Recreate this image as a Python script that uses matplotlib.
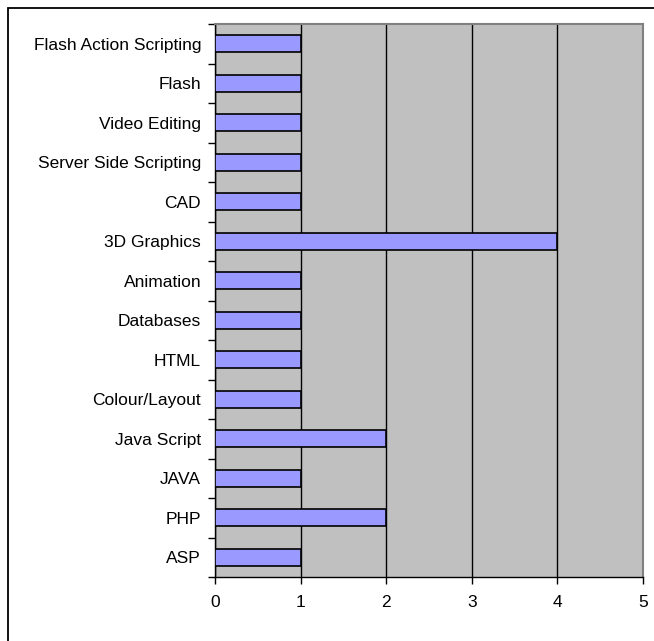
import matplotlib.pyplot as plt
import numpy as np
from matplotlib.patches import Rectangle

plt.rcParams['font.family'] = ['Liberation Sans', 'DejaVu Sans']

# categories listed bottom to top
skills = ['ASP', 'PHP', 'JAVA', 'Java Script', 'Colour/Layout', 'HTML',
          'Databases', 'Animation', '3D Graphics', 'CAD',
          'Server Side Scripting', 'Video Editing', 'Flash',
          'Flash Action Scripting']
counts = [1, 2, 1, 2, 1, 1, 1, 1, 4, 1, 1, 1, 1, 1]
x_ticks = [0, 1, 2, 3, 4, 5]

fig = plt.figure(figsize=(6.54, 6.41), dpi=100)
# chart frame runs off the right and bottom edges
fig.patches.append(Rectangle((8 / 654, -10 / 641), 660 / 654, 643 / 641,
                             transform=fig.transFigure, fill=False,
                             edgecolor='black', linewidth=1.3))

ax = fig.add_axes([215 / 654, (641 - 577) / 641, 428 / 654, 553 / 641])
ax.set_facecolor('#C0C0C0')

y = np.arange(len(skills))
ax.barh(y, counts, height=0.42, color='#9999FF', edgecolor='black',
        linewidth=1.2, zorder=3)

ax.set_xlim(0, 5)
ax.set_ylim(-0.5, len(skills) - 0.5)
ax.set_xticks(x_ticks)
ax.xaxis.grid(True, color='black', linewidth=1.0, zorder=1)
ax.set_axisbelow(True)

# labels centred on bars, tick marks between categories
ax.set_yticks(y)
ax.set_yticklabels(skills, fontsize=12.5)
ax.tick_params(axis='y', which='major', length=0, pad=10)
ax.set_yticks(np.arange(-0.5, len(skills), 1), minor=True)
ax.tick_params(axis='y', which='minor', length=5, width=1, direction='out')
ax.tick_params(axis='x', length=5, width=1, direction='out', labelsize=12.5,
               pad=8)

for side in ['top', 'right']:
    ax.spines[side].set_color('#808080')
    ax.spines[side].set_linewidth(1.5)
ax.spines['left'].set_linewidth(1)
ax.spines['bottom'].set_linewidth(1)

fig.savefig('out.png', dpi=100)
